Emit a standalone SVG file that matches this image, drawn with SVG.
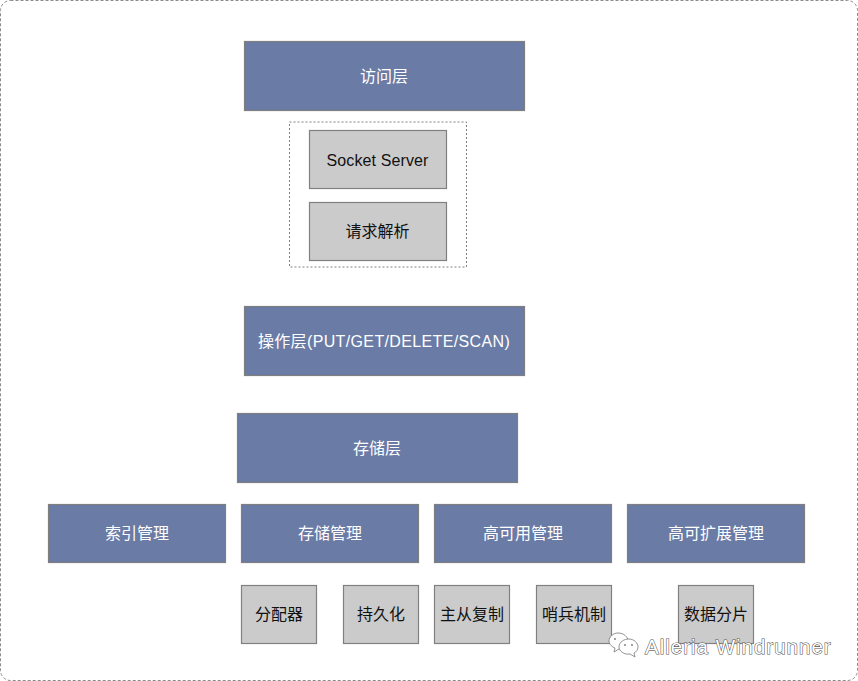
<svg xmlns="http://www.w3.org/2000/svg" width="858" height="681" viewBox="0 0 858 681">
<style>
text{font-family:"Liberation Sans","Noto Sans CJK SC",sans-serif;font-size:16px;text-anchor:middle}
.b rect{fill:#6a7ba5;stroke:#7f7f7f;stroke-width:1.2}
.b text{fill:#fff}
.g rect{fill:#cbcbcb;stroke:#808080;stroke-width:1.2}
.g text{fill:#111}
.d{fill:none;stroke:#808080;stroke-width:1;stroke-dasharray:2 2}
#outer-frame{stroke:#8c8c8c;stroke-dasharray:3 2}
.wm{font-size:20.5px;text-anchor:start;letter-spacing:1px;fill:#fff;stroke:#555;stroke-width:1.1;paint-order:stroke}
.ic{fill:#fff;stroke:#777;stroke-width:.8}
</style>
<rect width="858" height="681" fill="#fff"/>
<rect id="outer-frame" class="d" x="0.5" y="0.5" width="857" height="680" rx="10"/>
<rect id="access-group-frame" class="d" x="289.500" y="122" width="177" height="145"/>
<g id="access-layer" class="b"><rect x="244.500" y="41.500" width="280" height="69"/><text x="384" y="82">访问层</text></g>
<g id="socket-server" class="g"><rect x="309.500" y="130.500" width="137" height="58"/><text x="377.500" y="166" letter-spacing=".12">Socket Server</text></g>
<g id="request-parse" class="g"><rect x="309.500" y="202.500" width="137" height="58"/><text x="377.500" y="237">请求解析</text></g>
<g id="operation-layer" class="b"><rect x="244.500" y="306.500" width="280" height="69"/><text x="384" y="346.500" letter-spacing=".36">操作层(PUT/GET/DELETE/SCAN)</text></g>
<g id="storage-layer" class="b"><rect x="237.500" y="413.500" width="280" height="69"/><text x="377" y="454">存储层</text></g>
<g id="index-mgmt" class="b"><rect x="48.500" y="504.500" width="177" height="58"/><text x="137" y="539">索引管理</text></g>
<g id="storage-mgmt" class="b"><rect x="241.500" y="504.500" width="177" height="58"/><text x="330" y="539">存储管理</text></g>
<g id="ha-mgmt" class="b"><rect x="434.500" y="504.500" width="177" height="58"/><text x="523" y="539">高可用管理</text></g>
<g id="scale-mgmt" class="b"><rect x="627.500" y="504.500" width="177" height="58"/><text x="716" y="539">高可扩展管理</text></g>
<g id="allocator" class="g"><rect x="241.500" y="585.500" width="75" height="58"/><text x="279" y="620">分配器</text></g>
<g id="persistence" class="g"><rect x="343.500" y="585.500" width="75" height="58"/><text x="381" y="620">持久化</text></g>
<g id="replication" class="g"><rect x="434.500" y="585.500" width="75" height="58"/><text x="472" y="620">主从复制</text></g>
<g id="sentinel" class="g"><rect x="536.500" y="585.500" width="75" height="58"/><text x="574" y="620">哨兵机制</text></g>
<g id="sharding" class="g"><rect x="678.500" y="585.500" width="75" height="58"/><text x="716" y="620">数据分片</text></g>
<g id="connectors"></g>
<g id="watermark">
<path class="ic" d="M618 633c6 0 10 4 10 8s-4 8-9 8l-5 3 1-4c-3-1-6-4-6-7 0-4 4-8 9-8z"/>
<path class="ic" d="M629 639c5 0 9 4 9 8 0 3-2 5-4 6l1 4-5-3c-6 1-11-3-11-7 0-5 5-8 10-8z"/>
<circle cx="625" cy="645" r=".9" fill="#777"/><circle cx="632" cy="645" r=".9" fill="#777"/>
<circle cx="615" cy="639" r=".9" fill="#777"/>
<text class="wm" x="645" y="653.500">Alleria Windrunner</text>
</g>
</svg>
